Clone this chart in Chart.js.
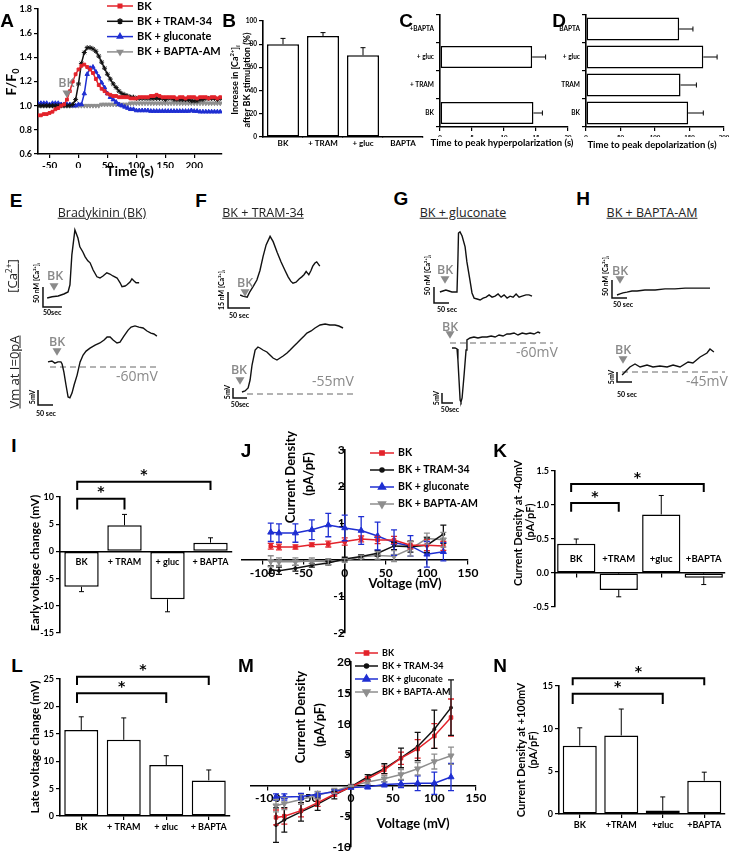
<!DOCTYPE html>
<html>
<head>
<meta charset="utf-8">
<title>Bradykinin / KCa3.1 figure</title>
<script src="https://cdn.jsdelivr.net/npm/chart.js@4.4.1/dist/chart.umd.min.js"></script>
<style>
  body { margin: 0; background: #fff; }
  #fig { position: relative; width: 730px; height: 853px; overflow: hidden; background: #fff; }
  #fig canvas { position: absolute; }
  .txt { position: absolute; white-space: nowrap; font-family: Lato, 'Open Sans', sans-serif; font-weight: bold; color: #000;
         transform: translate(-50%, -50%); line-height: 1; }
  .txt.rot { transform: translate(-50%, -50%) rotate(-90deg); }
  .letter { font-family: 'Liberation Sans', Arial, sans-serif; font-size: 19px; }
  .ttl { font-family: 'Open Sans', sans-serif; font-weight: normal; text-decoration: underline; font-size: 12.5px; color: #222; }
  sub, sup { font-size: 65%; }
</style>
</head>
<body>
<div id="fig"></div>
<script>
const FONT = "Lato, 'Open Sans', sans-serif";
const RED = '#e3232b', BLACK = '#111111', BLUE = '#1f2fd2', GRAY = '#8e8e8e', NOTE = '#8a8a8a';

// ---------------- data ----------------
// A: [Ca2+]i time course (F/F0)
const timeA = [-70,-65,-60,-55,-50,-45,-40,-35,-30,-25,-20,-15,-10,-5,0,5,10,15,20,25,30,35,40,45,50,55,60,65,70,75,
  80,85,90,95,100,105,110,115,120,125,130,135,140,145,150,155,160,165,170,175,180,185,190,195,200,205,210,215,220,225,230,235,240,245];
const bkA = [0.92,0.92,0.93,0.93,0.94,0.95,0.97,0.98,1.00,1.01,
  1.05,1.12,1.20,1.26,1.30,1.33,1.34,1.32,1.30,1.27,
  1.22,1.17,1.14,1.12,1.10,1.09,1.08,1.08,1.07,1.07,
  1.07,1.07,1.06,1.06,1.06,1.07,1.07,1.07,1.07,1.08,
  1.08,1.09,1.08,1.07,1.07,1.07,1.07,1.07,1.06,1.07,
  1.07,1.06,1.07,1.07,1.07,1.06,1.07,1.07,1.07,1.06,
  1.07,1.07,1.06,1.07];
const tramA = [1.00,1.00,1.00,1.00,1.00,1.00,1.00,1.00,1.00,1.00,
  1.00,1.00,1.01,1.05,1.18,1.35,1.44,1.48,1.48,1.47,
  1.45,1.41,1.36,1.31,1.26,1.22,1.18,1.15,1.12,1.10,
  1.09,1.08,1.07,1.07,1.06,1.06,1.06,1.06,1.06,1.06,
  1.06,1.06,1.06,1.06,1.05,1.06,1.06,1.05,1.05,1.05,
  1.05,1.05,1.05,1.04,1.04,1.04,1.05,1.05,1.06,1.06,
  1.06,1.06,1.05,1.06];
const glucA = [1.02,1.02,1.02,1.02,1.01,1.02,1.02,1.02,1.01,1.01,
  1.01,1.01,1.00,1.00,1.01,1.01,1.10,1.26,1.31,1.32,
  1.28,1.24,1.19,1.15,1.10,1.07,1.05,1.03,1.01,1.00,
  0.99,0.98,0.97,0.97,0.96,0.96,0.96,0.96,0.96,0.955,
  0.955,0.955,0.955,0.955,0.955,0.955,0.955,0.955,0.955,0.955,
  0.955,0.955,0.955,0.96,0.955,0.955,0.95,0.95,0.95,0.95,
  0.95,0.95,0.95,0.95];
const baptaA = [0.99,1.00,1.00,1.00,1.00,1.00,1.00,1.00,1.00,1.00,
  1.00,1.00,1.00,1.00,1.00,1.00,1.00,1.00,1.00,1.00,
  1.00,1.00,1.01,1.01,1.01,1.01,1.01,1.01,1.01,1.01,
  1.01,1.01,1.02,1.02,1.02,1.02,1.02,1.02,1.02,1.02,
  1.02,1.02,1.02,1.02,1.02,1.02,1.02,1.02,1.02,1.02,
  1.02,1.02,1.02,1.02,1.02,1.02,1.02,1.02,1.02,1.02,
  1.02,1.02,1.02,1.02];

// B: increase in [Ca2+]i after BK (%)
const groupsB = ['BK', '+ TRAM', '+ gluc', 'BAPTA'];
const riseB = [80, 87, 70.5, null];
const riseBErr = [85, 90, 77, null];

// C / D: time to peak (s)
const groupsC = ['+BAPTA', '+ gluc', '+ TRAM', 'BK'];
const hyperC = [null, 14.4, null, 14.6];
const hyperCErr = [null, 16.5, null, 16];
const groupsD = ['BAPTA', '+ gluc', 'TRAM', 'BK'];
const depolD = [135, 170, 137, 148];
const depolDErr = [155, 190, 160, 170];

// E-H: example traces (time in s from BK, [Ca2+] in nM, Vm in mV)
const eCaT = [-18,-5,11,26,37,42,47,55,63,68,76,82,89,95,103,113,121,129,139,147,155,166,174,179,187,192,200,205,210,216,224];
const eCaV = [0,3,5,10,15,33,108,170,150,128,115,103,93,88,70,53,50,55,63,60,55,50,38,28,30,33,40,48,43,38,38];
const eVmT = [-30,-17,-7,3,13,17,23,30,37,43,50,57,67,77,87,97,110,127,143,157,167,177,187,200,210,223,237,247,260,273,287,300,313,323,333];
const eVmV = [-58.3,-58,-58.7,-58.3,-58.3,-59,-61.7,-66,-70,-70.3,-68.7,-66,-62.7,-58.3,-56,-54.7,-53.7,-52.7,-52,-51,
  -50,-50,-51,-52,-51.7,-49.7,-47.7,-46.7,-46.3,-46.7,-47,-48,-48.7,-49,-49.7];
const fCaT = [-11,-5,5,11,20,27,34,41,48,57,64,73,82,91,98,104,109,116,123,129,134,139,143,145,150,154,159,163,170];
const fCaV = [0,-1,-2,3,9,14,23,36,47,55,50,40,31,23,17,13,11,12,15,17,19,22,20,19,23,27,30,31,27];
const fVmT = [7,18,29,36,43,54,64,71,82,96,107,118,132,143,154,168,179,193,204,218,229,239,254,268,286,304,321,339,353,368];
const fVmV = [-54,-53.5,-52,-48,-40.5,-33,-31.5,-32,-33,-34,-35.5,-37,-38,-37,-36,-34.5,-33,-31,-29.5,-27.5,
  -26,-24.5,-23.5,-22,-20.5,-20,-20.5,-20.5,-21,-22];
const gCaT = [-17,-7,3,13,23,33,40,43,45,50,57,67,73,83,90,97,107,117,127,137,147,157,167,177,187,197,207,217,227,237,247,257,270,280,290];
const gCaV = [0,3,6,3,0,0,0,100,184,188,175,141,94,38,-3,-19,-22,-25,-19,-16,-9,-16,-13,-6,-16,-9,-19,-13,-16,-6,-16,-13,-9,-9,-13];
const gVmT = [9,23,32,36,41,46,50,55,64,73,77,91,109,127,146,168,187,205,223,241,259,273,291,309,328,346,364,382,400,410];
const gVmV = [-62.5,-62.5,-63,-68.5,-78.5,-88.5,-89.5,-87.5,-76,-63.5,-58.5,-57.5,-57,-57.5,-57,-57,-56.5,-57,-56,-56.5,
  -55.5,-55.5,-55,-56,-55,-55.5,-55,-55.5,-54.5,-55];
const hCaT = [-10,0,10,23,40,57,83,117,150,183,217,250,283,300];
const hCaV = [0,3,6,8,11,11,14,14,17,17,19,19,19,19];
const hVmT = [-3,10,23,40,57,80,100,123,147,167,190,217,233,257,280,290,303];
const hVmV = [-46.5,-44.5,-42.5,-41,-42.5,-41.5,-42.5,-42,-42.5,-41.5,-42.5,-40,-40.5,-37.5,-35.5,-33.5,-35];

// I-N: bar summaries
const groupsI = ['BK', '+ TRAM', '+ gluc', '+ BAPTA'];
const earlyI = [-6.5, 4.8, -8.8, 1.6];
const earlyIErr = [-7.4, 6.8, -11.1, 2.5];
const groupsK = ['BK', '+TRAM', '+gluc', '+BAPTA'];
const densK = [0.43, -0.25, 0.86, -0.07];
const densKErr = [0.5, -0.35, 1.14, -0.17];
const lateL = [15.7, 13.9, 9.3, 6.5];
const lateLErr = [18.1, 17.9, 11.0, 8.4];
const densN = [8.0, 9.2, 0.4, 3.9];
const densNErr = [10.1, 12.3, 2.0, 4.9];

// J / M: I-V curves (mV vs pA/pF, mean and SEM)
const voltIV = [-90,-80,-60,-40,-20,0,20,40,60,80,100,120];
const bkJ = [0.37,0.35,0.35,0.41,0.43,0.50,0.57,0.54,0.54,0.40,0.40,0.38];
const bkJe = [0.08,0.08,0.06,0.05,0.08,0.1,0.08,0.1,0.1,0.1,0.15,0.12];
const tramJ = [-0.27,-0.30,-0.23,-0.15,-0.09,0.02,0.09,0.18,0.38,0.36,0.40,0.70];
const tramJe = [0.1,0.1,0.08,0.05,0.05,0.05,0.05,0.08,0.1,0.15,0.2,0.25];
const glucJ = [0.75,0.73,0.73,0.82,0.95,0.87,0.80,0.65,0.47,0.38,0.15,0.22];
const glucJe = [0.25,0.25,0.25,0.27,0.32,0.35,0.38,0.38,0.35,0.28,0.35,0.25];
const baptaJ = [-0.04,-0.05,-0.05,-0.03,-0.05,-0.02,0.08,0.12,0.10,0.30,0.58,0.55];
const baptaJe = [0.15,0.1,0.1,0.08,0.08,0.05,0.05,0.1,0.15,0.2,0.15,0.2];
const bkM = [-5.2,-5.0,-4.1,-2.8,-1.45,-0.27,1.07,2.5,4.4,5.9,8.0,11.0];
const bkMe = [1.2,1.3,1.0,0.6,0.3,0.1,0.3,0.6,1.0,1.5,2.0,3.0];
const tramM = [-6.45,-5.6,-4.3,-3.05,-1.6,-0.2,1.35,2.7,4.45,6.3,9.1,12.6];
const tramMe = [2.8,2.0,1.5,1.0,0.6,0.2,0.4,0.8,1.6,2.3,3.1,4.5];
const glucM = [-1.9,-1.9,-1.8,-1.45,-1.05,-0.35,-0.25,0.15,0.25,0.35,0.35,1.35];
const glucMe = [0.5,0.5,0.5,0.4,0.3,0.2,0.3,0.4,0.6,1.2,1.8,2.2];
const baptaM = [-3.3,-2.95,-2.3,-1.6,-0.9,-0.1,0.55,1.07,1.75,2.7,3.85,4.8];
const baptaMe = [1.0,1.0,0.8,0.6,0.4,0.1,0.3,0.5,0.8,1.0,1.2,1.4];

// ---------------- drawing helpers ----------------
const fig = document.getElementById('fig');
Chart.defaults.font.family = FONT;

// error bars, significance brackets, free notes and an in-plot legend
const extras = {
  id: 'extras',
  afterDatasetsDraw(chart, args, o) {
    const ctx = chart.ctx, xs = chart.scales.x, ys = chart.scales.y;
    ctx.save();
    if (o.barErr) {
      const horiz = chart.options.indexAxis === 'y';
      const vals = chart.data.datasets[0].data;
      ctx.strokeStyle = '#000'; ctx.lineWidth = 1;
      o.barErr.forEach((e, i) => {
        if (e == null || vals[i] == null) return;
        ctx.beginPath();
        if (horiz) {
          const y = ys.getPixelForValue(i), x0 = xs.getPixelForValue(vals[i]), x1 = xs.getPixelForValue(e);
          ctx.moveTo(x0, y); ctx.lineTo(x1, y);
          ctx.moveTo(x1, y - 2.5); ctx.lineTo(x1, y + 2.5);
        } else {
          const x = xs.getPixelForValue(i), y0 = ys.getPixelForValue(vals[i]), y1 = ys.getPixelForValue(e);
          ctx.moveTo(x, y0); ctx.lineTo(x, y1);
          ctx.moveTo(x - 2.5, y1); ctx.lineTo(x + 2.5, y1);
        }
        ctx.stroke();
      });
    }
    if (o.lineErr) {
      o.lineErr.forEach((errs, k) => {
        const ds = chart.data.datasets[k];
        ctx.strokeStyle = ds.borderColor; ctx.lineWidth = 1.3;
        ds.data.forEach((p, i) => {
          const e = errs[i];
          if (!e) return;
          const x = xs.getPixelForValue(p.x), a = ys.getPixelForValue(p.y - e), b = ys.getPixelForValue(p.y + e);
          ctx.beginPath();
          ctx.moveTo(x, a); ctx.lineTo(x, b);
          ctx.moveTo(x - 3, a); ctx.lineTo(x + 3, a);
          ctx.moveTo(x - 3, b); ctx.lineTo(x + 3, b);
          ctx.stroke();
        });
      });
    }
    (o.brackets || []).forEach(br => {
      const xa = xs.getPixelForValue(br.from), xb = xs.getPixelForValue(br.to);
      const yt = ys.getPixelForValue(br.top), yl = ys.getPixelForValue(br.leg);
      ctx.strokeStyle = '#000'; ctx.lineWidth = 2;
      ctx.beginPath(); ctx.moveTo(xa, yl); ctx.lineTo(xa, yt); ctx.lineTo(xb, yt); ctx.lineTo(xb, yl); ctx.stroke();
      ctx.fillStyle = '#000'; ctx.font = "bold 14px 'DejaVu Sans'"; ctx.textAlign = 'center'; ctx.textBaseline = 'middle';
      ctx.fillText('*', (xa + xb) / 2, yt - 6);
    });
    (o.notes || []).forEach(n => {
      const x = xs.getPixelForValue(n.x), y = ys.getPixelForValue(n.y);
      ctx.save();
      ctx.fillStyle = n.color || '#000';
      if (n.tri) {
        ctx.beginPath();
        ctx.moveTo(x - n.tri / 2, y - n.tri / 2.4); ctx.lineTo(x + n.tri / 2, y - n.tri / 2.4); ctx.lineTo(x, y + n.tri / 2.4);
        ctx.closePath(); ctx.fill();
      } else {
        ctx.font = n.font; ctx.textAlign = 'center'; ctx.textBaseline = 'middle';
        ctx.translate(x, y);
        if (n.rot) ctx.rotate(-Math.PI / 2);
        ctx.fillText(n.text, 0, 0);
      }
      ctx.restore();
    });
    if (o.legend) {
      const L = o.legend, ox = chart.canvas.offsetLeft, oy = chart.canvas.offsetTop;
      ctx.font = L.font; ctx.textAlign = 'left'; ctx.textBaseline = 'middle';
      chart.data.datasets.forEach((ds, k) => {
        const x = L.x - ox, y = L.y + k * L.dy - oy;
        ctx.strokeStyle = ds.borderColor; ctx.fillStyle = ds.borderColor; ctx.lineWidth = 1.5;
        ctx.beginPath(); ctx.moveTo(x, y); ctx.lineTo(x + L.len, y); ctx.stroke();
        Chart.helpers.drawPoint(ctx, { pointStyle: ds.pointStyle, rotation: ds.pointRotation || 0,
          radius: ds.pointRadius + 0.5, borderWidth: 1 }, x + L.len / 2, y);
        ctx.fillStyle = '#000';
        ctx.fillText(ds.label, x + L.len + 4, y);
      });
    }
    ctx.restore();
  }
};
Chart.register(extras);

function addCanvas(x, y, w, h) {
  const c = document.createElement('canvas');
  c.width = w; c.height = h;
  c.style.left = x + 'px'; c.style.top = y + 'px';
  c.style.width = w + 'px'; c.style.height = h + 'px';
  fig.appendChild(c);
  return c;
}

function addText(html, x, y, cls, size) {
  const d = document.createElement('div');
  d.className = 'txt ' + (cls || '');
  d.innerHTML = html;
  d.style.left = x + 'px'; d.style.top = y + 'px';
  if (size) d.style.fontSize = size + 'px';
  fig.appendChild(d);
}

function fixSize(sc, size) {
  sc.afterFit = s => {
    if (s.isHorizontal()) s.height = size; else s.width = size;
    s.paddingLeft = s.paddingRight = s.paddingTop = s.paddingBottom = 0;
  };
}

// plot = [left, top, right, bottom] of the plotting area on the page, m = margins, ax = [y axis width, x axis height]
function plotChart(plot, m, ax, cfg) {
  const c = addCanvas(plot[0] - m[0], plot[1] - m[1], plot[2] - plot[0] + m[0] + m[2], plot[3] - plot[1] + m[1] + m[3]);
  const plugins = Object.assign({ legend: { display: false }, tooltip: { enabled: false } }, cfg.options.plugins);
  cfg.options = Object.assign({
    responsive: false, animation: false, devicePixelRatio: 1,
    layout: { autoPadding: false, padding: { left: m[0] - ax[0], top: m[1], right: m[2], bottom: m[3] - ax[1] } }
  }, cfg.options);
  cfg.options.plugins = plugins;
  fixSize(cfg.options.scales.x, ax[1]);
  fixSize(cfg.options.scales.y, ax[0]);
  return new Chart(c, cfg);
}

function axis(o) {
  const a = {
    type: o.type || 'linear',
    grid: { display: true, drawOnChartArea: false, tickLength: o.tick == null ? 4 : o.tick, color: '#000', lineWidth: 1.2 },
    border: { color: '#000', width: 1.6 },
    ticks: Object.assign({ color: '#000', padding: 2, font: { family: FONT, size: o.font || 9, weight: 'bold' } }, o.ticks || {})
  };
  if (o.position) a.position = o.position;
  if (o.min != null) { a.min = o.min; a.max = o.max; }
  if (o.gridOffset != null) a.grid.offset = o.gridOffset;
  return a;
}

function series(label, xs, ys, color, style, r, rot) {
  return { label, data: xs.map((x, i) => ({ x, y: ys[i] })), borderColor: color, backgroundColor: color,
    borderWidth: 1.5, showLine: true, pointStyle: style, pointRadius: r, pointRotation: rot || 0, pointBorderWidth: 1 };
}

function bars(values, pct) {
  return { data: values, backgroundColor: '#fff', borderColor: '#000', borderWidth: 1.5, borderSkipped: false,
    barPercentage: pct || 0.8, categoryPercentage: 1 };
}

// a recorded trace with its calibration bar; org = page pixel of (t = 0, v = org[2])
function trace(box, org, pxSec, pxUnit, t, v, bar, dash, notes) {
  const c = addCanvas(box[0], box[1], box[2], box[3]);
  const xmin = -(org[0] - box[0]) / pxSec;
  const ymax = org[2] + (org[1] - box[1]) / pxUnit;
  const ds = [{ data: t.map((x, i) => ({ x, y: v[i] })), borderColor: BLACK, borderWidth: 1.4, showLine: true }];
  if (dash) ds.push({ data: [{ x: dash[0], y: dash[2] }, { x: dash[1], y: dash[2] }], borderColor: '#9a9a9a',
    borderWidth: 1.6, borderDash: [6, 4], showLine: true });
  ds.push({ data: [{ x: bar[0], y: bar[1] + bar[3] }, { x: bar[0], y: bar[1] }, { x: bar[0] + bar[2], y: bar[1] }],
    borderColor: BLACK, borderWidth: 1.5, showLine: true });
  new Chart(c, {
    type: 'scatter',
    data: { datasets: ds },
    options: {
      responsive: false, animation: false, devicePixelRatio: 1,
      layout: { autoPadding: false, padding: 0 },
      elements: { point: { radius: 0 }, line: { tension: 0 } },
      scales: {
        x: { type: 'linear', display: false, min: xmin, max: xmin + box[2] / pxSec },
        y: { type: 'linear', display: false, min: ymax - box[3] / pxUnit, max: ymax }
      },
      plugins: { legend: { display: false }, tooltip: { enabled: false }, extras: { notes } }
    }
  });
}

function bkMark(x, yText, yTri) {
  return [{ x, y: yText, text: 'BK', font: "600 12.5px 'Open Sans'", color: NOTE }, { x: 0, y: yTri, tri: 9, color: NOTE }];
}
const CAL = "bold 7px " + FONT;
const CA_UNIT = ' nM [Ca²⁺]ᵢ';

// ---------------- A ----------------
plotChart([38, 9, 222, 154], [30, 9, 14, 16], [28, 14], {
  type: 'scatter',
  data: { datasets: [
    series('BK', timeA, bkA, RED, 'rect', 2),
    series('BK + TRAM-34', timeA, tramA, BLACK, 'star', 2.5),
    series('BK + gluconate', timeA, glucA, BLUE, 'triangle', 2.5),
    series('BK + BAPTA-AM', timeA, baptaA, GRAY, 'triangle', 2.5, 180)
  ] },
  options: {
    scales: {
      x: axis({ min: -70, max: 248, font: 10, ticks: { stepSize: 50, includeBounds: false } }),
      y: axis({ min: 0.6, max: 1.8, font: 9, ticks: { stepSize: 0.2, callback: v => v.toFixed(1) } })
    },
    plugins: { extras: {
      legend: { x: 107, y: 6, dy: 15.3, len: 26, font: 'bold 11px ' + FONT },
      notes: [{ x: -21, y: 1.18, text: 'BK', font: "600 12.5px 'Open Sans'", color: NOTE }, { x: -20, y: 1.095, tri: 9, color: NOTE }]
    } }
  }
});

// ---------------- B ----------------
plotChart([263, 21, 423, 137], [22, 5, 4, 14], [20, 12], {
  type: 'bar',
  data: { labels: groupsB, datasets: [bars(riseB)] },
  options: {
    scales: {
      x: axis({ type: 'category', font: 8, tick: 0 }),
      y: axis({ min: 0, max: 100, font: 6.5, ticks: { stepSize: 20 } })
    },
    plugins: { extras: { barErr: riseBErr } }
  }
});

// ---------------- C / D ----------------
plotChart([440, 15, 568, 127], [36, 4, 5, 12], [34, 10], {
  type: 'bar',
  data: { labels: groupsC, datasets: [bars(hyperC, 0.79)] },
  options: {
    indexAxis: 'y',
    scales: {
      x: axis({ min: 0, max: 20, font: 6, ticks: { stepSize: 5 } }),
      y: axis({ type: 'category', font: 6.5 })
    },
    plugins: { extras: { barErr: hyperCErr } }
  }
});
plotChart([586, 15, 724, 127], [38, 4, 5, 12], [36, 10], {
  type: 'bar',
  data: { labels: groupsD, datasets: [bars(depolD, 0.82)] },
  options: {
    indexAxis: 'y',
    scales: {
      x: axis({ min: 0, max: 200, font: 6, ticks: { stepSize: 50 } }),
      y: axis({ type: 'category', font: 6.5 })
    },
    plugins: { extras: { barErr: depolDErr } }
  }
});

// ---------------- E-H traces ----------------
trace([25, 222, 170, 100], [54, 298, 0], 0.38, 0.4, eCaT, eCaV, [-29, -22.5, 50, 50], null,
  bkMark(3, 55, 27.5).concat([
    { x: -44.7, y: 37.5, text: '50' + CA_UNIT, font: CAL, rot: true },
    { x: -5, y: -37.5, text: '50sec', font: CAL }]));
trace([25, 322, 170, 100], [57, 367, -60], 0.3, 3, eVmT, eVmV, [-63.3, -72.7, 50, 5], [-23.3, 336.7, -60],
  bkMark(0, -51.7, -55).concat([
    { x: 266.7, y: -63.3, text: '-60mV', font: "14px 'Open Sans'", color: NOTE },
    { x: -80, y: -70, text: '5mV', font: CAL, rot: true },
    { x: -36.7, y: -75.7, text: '50 sec', font: CAL }]));
trace([205, 222, 160, 100], [245, 295, 0], 0.44, 1.0667, fCaT, fCaV, [-38.6, -12.2, 50, 15], null,
  bkMark(0, 10.5, 1.9).concat([
    { x: -52.3, y: 4.7, text: '15' + CA_UNIT, font: CAL, rot: true },
    { x: -13.6, y: -19.7, text: '50 sec', font: CAL }]));
trace([205, 318, 160, 104], [240, 394, -55], 0.28, 2, fVmT, fVmV, [-25, -57, 50, 5], [25, 403.6, -55],
  bkMark(-3.6, -43, -48.5).concat([
    { x: 332, y: -49, text: '-55mV', font: "14px 'Open Sans'", color: NOTE },
    { x: -42.9, y: -54, text: '5mV', font: CAL, rot: true },
    { x: 0, y: -60.5, text: '50sec', font: CAL }]));
trace([400, 222, 170, 100], [445, 292, 0], 0.3, 0.32, gCaT, gCaV, [-36.7, -34.4, 50, 50], null,
  bkMark(0, 68.75, 37.5).concat([
    { x: -56.7, y: 53, text: '50' + CA_UNIT, font: CAL, rot: true },
    { x: 6.7, y: -56.25, text: '50 sec', font: CAL }]));
trace([400, 318, 170, 104], [450, 343, -60], 0.22, 2, gVmT, gVmV, [-36.4, -90, 50, 5], [0, 468, -60],
  bkMark(0, -52, -56).concat([
    { x: 395.5, y: -65, text: '-60mV', font: "14px 'Open Sans'", color: NOTE },
    { x: -59, y: -87.5, text: '5mV', font: CAL, rot: true },
    { x: 0, y: -93.5, text: '50sec', font: CAL }]));
trace([590, 222, 140, 100], [620, 295, 0], 0.3, 0.36, hCaT, hCaV, [-26.7, -8.3, 50, 50], null,
  bkMark(0, 66.7, 41.7).concat([
    { x: -46.7, y: 52.8, text: '50' + CA_UNIT, font: CAL, rot: true },
    { x: 10, y: -27.8, text: '50 sec', font: CAL }]));
trace([590, 318, 140, 104], [623, 372, -45], 0.3, 2, hVmT, hVmV, [-20, -50, 50, 5], [-3.3, 340, -45],
  bkMark(0, -34, -39).concat([
    { x: 280, y: -50, text: '-45mV', font: "14px 'Open Sans'", color: NOTE },
    { x: -36.7, y: -47.5, text: '5mV', font: CAL, rot: true },
    { x: 13.3, y: -56.5, text: '50 sec', font: CAL }]));

// ---------------- I ----------------
plotChart([60, 497, 232, 633], [24, 30, 6, 4], [22, 0], {
  type: 'bar',
  data: { labels: groupsI, datasets: [bars(earlyI)] },
  options: {
    scales: {
      x: axis({ type: 'category', position: { y: 0 }, tick: 0, gridOffset: false, ticks: { display: false } }),
      y: axis({ min: -15, max: 10, font: 9, ticks: { stepSize: 5 } })
    },
    plugins: { extras: {
      barErr: earlyIErr,
      brackets: [{ from: -0.1, to: 3, top: 12.8, leg: 11.3 }, { from: -0.1, to: 1, top: 9.7, leg: 7.7 }],
      notes: groupsI.map((g, i) => ({ x: i, y: -1.9, text: g, font: 'bold 9px ' + FONT }))
    } }
  }
});

// ---------------- J ----------------
plotChart([242, 450, 468, 633], [6, 8, 52, 6], [0, 0], {
  type: 'scatter',
  data: { datasets: [
    series('BK', voltIV, bkJ, RED, 'rect', 2.5),
    series('BK + TRAM-34', voltIV, tramJ, BLACK, 'circle', 1.5),
    series('BK + gluconate', voltIV, glucJ, BLUE, 'triangle', 3.5),
    series('BK + BAPTA-AM', voltIV, baptaJ, GRAY, 'triangle', 3.5, 180)
  ] },
  options: {
    scales: {
      x: axis({ min: -125, max: 150, position: { y: 0 }, font: 12, ticks: { stepSize: 50, includeBounds: false } }),
      y: axis({ min: -2, max: 3, position: { x: 0 }, font: 12, ticks: { stepSize: 1, callback: v => v === 0 ? '' : v } })
    },
    plugins: { extras: {
      lineErr: [bkJe, tramJe, glucJe, baptaJe],
      legend: { x: 370, y: 453, dy: 17, len: 24, font: 'bold 10.5px ' + FONT }
    } }
  }
});

// ---------------- K ----------------
plotChart([555, 471, 725, 607], [26, 10, 5, 4], [24, 0], {
  type: 'bar',
  data: { labels: groupsK, datasets: [bars(densK, 0.9)] },
  options: {
    scales: {
      x: axis({ type: 'category', position: { y: 0 }, tick: 4, gridOffset: false, ticks: { display: false } }),
      y: axis({ min: -0.5, max: 1.5, font: 9, ticks: { stepSize: 0.5, callback: v => v.toFixed(1) } })
    },
    plugins: { extras: {
      barErr: densKErr,
      brackets: [{ from: -0.12, to: 3, top: 1.31, leg: 1.19 }, { from: -0.12, to: 1, top: 1.03, leg: 0.9 }],
      notes: groupsK.map((g, i) => ({ x: i, y: 0.2, text: g, font: 'bold 9.5px ' + FONT }))
    } }
  }
});

// ---------------- L ----------------
plotChart([60, 679, 230, 816], [24, 20, 6, 16], [22, 14], {
  type: 'bar',
  data: { labels: groupsI, datasets: [bars(lateL)] },
  options: {
    scales: {
      x: axis({ type: 'category', font: 9, tick: 4, gridOffset: false }),
      y: axis({ min: 0, max: 25, font: 9, ticks: { stepSize: 5 } })
    },
    plugins: { extras: { barErr: lateLErr, brackets: [
      { from: -0.1, to: 3, top: 25.4, leg: 23.9 }, { from: -0.1, to: 2, top: 22.4, leg: 20.6 }] } }
  }
});

// ---------------- M ----------------
plotChart([251, 662, 476, 847], [6, 14, 10, 6], [0, 0], {
  type: 'scatter',
  data: { datasets: [
    series('BK', voltIV, bkM, RED, 'rect', 2.5),
    series('BK + TRAM-34', voltIV, tramM, BLACK, 'circle', 1.5),
    series('BK + gluconate', voltIV, glucM, BLUE, 'triangle', 3.5),
    series('BK + BAPTA-AM', voltIV, baptaM, GRAY, 'triangle', 3.5, 180)
  ] },
  options: {
    scales: {
      x: axis({ min: -120, max: 150, position: { y: 0 }, font: 12, ticks: { stepSize: 50, includeBounds: false } }),
      y: axis({ min: -10, max: 20, position: { x: 0 }, font: 12, ticks: { stepSize: 5, callback: v => v === 0 ? '' : v } })
    },
    plugins: { extras: {
      lineErr: [bkMe, tramMe, glucMe, baptaMe],
      legend: { x: 355, y: 653, dy: 13, len: 23, font: 'bold 9px ' + FONT }
    } }
  }
});

// ---------------- N ----------------
plotChart([559, 686, 725, 814], [24, 20, 5, 16], [22, 14], {
  type: 'bar',
  data: { labels: groupsK, datasets: [bars(densN, 0.82)] },
  options: {
    scales: {
      x: axis({ type: 'category', font: 9, tick: 4, gridOffset: false }),
      y: axis({ min: 0, max: 15, font: 9, ticks: { stepSize: 5 } })
    },
    plugins: { extras: { barErr: densNErr, brackets: [
      { from: -0.17, to: 3, top: 15.9, leg: 15.1 }, { from: -0.17, to: 2, top: 14.1, leg: 12.9 }] } }
  }
});

// ---------------- text ----------------
[['A', 7, 20], ['B', 229, 20], ['C', 406, 20], ['D', 559, 20], ['E', 16, 200], ['F', 201, 200], ['G', 401, 198],
 ['H', 583, 198], ['I', 14, 445], ['J', 246, 450], ['K', 500, 450], ['L', 17, 665], ['M', 246, 665], ['N', 500, 665]]
  .forEach(l => addText(l[0], l[1], l[2], 'letter'));

addText('F/F<sub>0</sub>', 12, 82, 'rot', 14);
addText('Time (s)', 130, 171, '', 14);
addText('Increase in [Ca<sup>2+</sup>]<sub>i</sub>', 235, 80, 'rot', 9);
addText('after BK stimulation (%)', 246, 80, 'rot', 9);
addText('Time to peak hyperpolarization (s)', 502, 143, '', 9.5);
addText('Time to peak depolarization (s)', 652, 145, '', 9.5);

addText('Bradykinin (BK)', 102, 213, 'ttl');
addText('BK + TRAM-34', 263, 213, 'ttl');
addText('BK + gluconate', 463, 213, 'ttl');
addText('BK + BAPTA-AM', 652, 213, 'ttl');
addText('[Ca<sup>2+</sup>]', 12, 276, 'ttl rot', 13);
addText('Vm at I=0pA', 14, 372, 'ttl rot', 13);

addText('Early voltage change (mV)', 35, 563, 'rot', 12);
addText('Current Density', 290, 477, 'rot', 13);
addText('(pA/pF)', 308, 474, 'rot', 13);
addText('Voltage (mV)', 405, 583, '', 13);
addText('Current Density at -40mV', 517, 523, 'rot', 11);
addText('(pA/pF)', 529, 522, 'rot', 11);
addText('Late voltage change (mV)', 35, 747, 'rot', 12);
addText('Current Density', 300, 717, 'rot', 13);
addText('(pA/pF)', 319, 725, 'rot', 13);
addText('Voltage (mV)', 413, 823, '', 13);
addText('Current Density at +100mV', 520, 750, 'rot', 11);
addText('(pA/pF)', 532, 750, 'rot', 11);
</script>
</body>
</html>
